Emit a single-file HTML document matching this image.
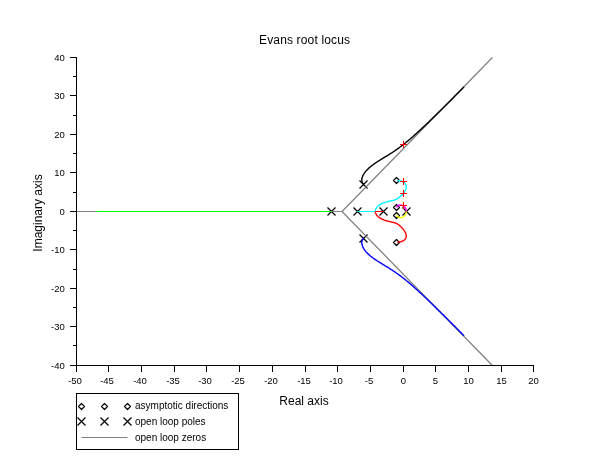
<!DOCTYPE html>
<html><head><meta charset="utf-8"><title>Evans root locus</title>
<style>html,body{margin:0;padding:0;background:#fff}svg{display:block;will-change:transform}</style></head>
<body>
<svg width="610" height="460" viewBox="0 0 610 460">
<rect width="610" height="460" fill="#fff"/>
<g stroke="#000" stroke-width="1.2" fill="none" stroke-linejoin="round">
<path d="M393.5 207.5 l3.0 -3.0 l3.0 3.0 l-3.0 3.0 z"/>
<path d="M393.5 215.5 l3.0 -3.0 l3.0 3.0 l-3.0 3.0 z"/>
<path d="M393.5 180.5 l3.0 -3.0 l3.0 3.0 l-3.0 3.0 z"/>
<path d="M393.5 242.5 l3.0 -3.0 l3.0 3.0 l-3.0 3.0 z"/>
<path d="M78.5 406.5 l3.0 -3.0 l3.0 3.0 l-3.0 3.0 z"/>
<path d="M101.5 406.5 l3.0 -3.0 l3.0 3.0 l-3.0 3.0 z"/>
<path d="M124.5 406.5 l3.0 -3.0 l3.0 3.0 l-3.0 3.0 z"/>
</g>
<g stroke="#000" stroke-width="1.15" fill="none">
<path d="M402.5 207.5 l8.0 8.0 M402.5 215.5 l8.0 -8.0"/>
<path d="M359.5 180.5 l8.0 8.0 M359.5 188.5 l8.0 -8.0"/>
<path d="M359.5 234.5 l8.0 8.0 M359.5 242.5 l8.0 -8.0"/>
<path d="M379.5 207.5 l8.0 8.0 M379.5 215.5 l8.0 -8.0"/>
<path d="M353.5 207.5 l8.0 8.0 M353.5 215.5 l8.0 -8.0"/>
<path d="M327.5 207.5 l8.0 8.0 M327.5 215.5 l8.0 -8.0"/>
<path d="M77.5 417.5 l8.0 8.0 M77.5 425.5 l8.0 -8.0"/>
<path d="M100.5 417.5 l8.0 8.0 M100.5 425.5 l8.0 -8.0"/>
<path d="M123.5 417.5 l8.0 8.0 M123.5 425.5 l8.0 -8.0"/>
</g>
<g stroke="#808080" stroke-width="1.25" fill="none">
<path stroke-width="1" d="M76.5 211.5 L342.0 211.5"/>
<path d="M492.4 57.5 L342.0 211.5 L492.4 365.5"/>
<path stroke-width="1" d="M81.5 437.5 H127.5"/>
</g>
<g fill="none" stroke-width="1.4" stroke-linejoin="round">
<path stroke="#000000" d="M363.8 184.4 L363.5 184.1 L363.2 183.8 L362.9 183.5 L362.7 183.2 L362.4 182.8 L362.2 182.4 L362.1 181.9 L362.0 181.4 L361.9 180.9 L361.8 180.3 L361.8 179.7 L361.8 179.2 L361.9 178.6 L362.0 178.1 L362.2 177.6 L362.3 177.2 L362.5 176.7 L362.6 176.3 L362.8 175.8 L363.0 175.4 L363.2 175.0 L363.5 174.6 L363.7 174.2 L363.9 173.8 L364.2 173.4 L364.4 173.0 L364.7 172.7 L365.0 172.3 L365.2 172.0 L365.5 171.6 L365.8 171.2 L366.1 170.9 L366.4 170.5 L366.7 170.2 L367.0 169.9 L367.4 169.5 L367.7 169.2 L368.0 168.9 L368.4 168.6 L368.7 168.3 L369.0 167.9 L369.4 167.6 L369.8 167.3 L370.1 167.0 L370.5 166.7 L370.8 166.4 L371.2 166.1 L371.5 165.9 L371.9 165.6 L372.3 165.3 L372.7 165.0 L373.1 164.7 L373.5 164.4 L373.9 164.1 L374.3 163.8 L374.6 163.6 L375.0 163.3 L375.4 163.0 L375.8 162.8 L376.2 162.5 L376.6 162.3 L377.0 162.0 L377.4 161.7 L377.9 161.4 L378.3 161.1 L378.8 160.9 L379.2 160.6 L379.7 160.3 L380.2 160.0 L380.7 159.7 L381.0 159.4 L381.4 159.2 L381.8 159.0 L382.2 158.7 L382.6 158.5 L383.0 158.2 L383.4 158.0 L383.9 157.7 L384.3 157.5 L384.7 157.2 L385.2 156.9 L385.6 156.7 L386.0 156.4 L386.5 156.1 L387.0 155.8 L387.4 155.5 L387.9 155.3 L388.4 155.0 L388.9 154.7 L389.3 154.4 L389.8 154.0 L390.3 153.7 L390.8 153.4 L391.3 153.1 L391.9 152.8 L392.4 152.4 L392.9 152.1 L393.4 151.7 L393.9 151.4 L394.5 151.0 L395.0 150.7 L395.3 150.4 L395.7 150.2 L396.1 149.9 L396.4 149.7 L396.8 149.4 L397.1 149.2 L397.5 148.9 L397.9 148.6 L398.2 148.4 L398.6 148.1 L399.0 147.8 L399.3 147.6 L399.7 147.3 L400.1 147.0 L400.4 146.7 L400.8 146.5 L401.2 146.2 L401.6 145.9 L401.9 145.6 L402.3 145.3 L402.7 145.0 L403.0 144.8 L403.4 144.5 L403.8 144.2 L404.2 143.9 L404.6 143.6 L404.9 143.3 L405.3 143.0 L405.7 142.7 L406.1 142.3 L406.4 142.0 L406.8 141.7 L407.2 141.4 L407.6 141.1 L408.0 140.8 L408.3 140.5 L408.7 140.1 L409.1 139.8 L409.5 139.5 L409.9 139.2 L410.3 138.8 L410.7 138.5 L411.0 138.2 L411.4 137.8 L411.8 137.5 L412.2 137.2 L412.6 136.8 L413.0 136.5 L413.4 136.1 L413.8 135.8 L414.2 135.4 L414.5 135.1 L414.9 134.7 L415.3 134.4 L415.7 134.0 L416.1 133.7 L416.5 133.3 L416.9 133.0 L417.3 132.6 L417.7 132.2 L418.1 131.9 L418.5 131.5 L418.9 131.1 L419.3 130.8 L419.7 130.4 L420.1 130.0 L420.5 129.6 L420.9 129.3 L421.4 128.9 L421.8 128.5 L422.2 128.1 L422.6 127.7 L423.0 127.4 L423.4 127.0 L423.8 126.6 L424.2 126.2 L424.7 125.8 L425.1 125.4 L425.5 125.0 L425.9 124.6 L426.3 124.2 L426.8 123.8 L427.2 123.4 L427.6 123.0 L428.0 122.6 L428.5 122.2 L428.9 121.8 L429.3 121.4 L429.7 120.9 L430.2 120.5 L430.6 120.1 L431.0 119.7 L431.5 119.3 L431.9 118.8 L432.4 118.4 L432.8 118.0 L433.2 117.6 L433.7 117.1 L434.1 116.7 L434.6 116.2 L435.0 115.8 L435.5 115.4 L435.9 114.9 L436.4 114.5 L436.8 114.0 L437.3 113.6 L437.8 113.1 L438.2 112.7 L438.7 112.2 L439.1 111.8 L439.6 111.3 L440.1 110.9 L440.5 110.4 L441.0 109.9 L441.5 109.5 L442.0 109.0 L442.4 108.5 L442.9 108.1 L443.4 107.6 L443.9 107.1 L444.3 106.6 L444.8 106.2 L445.3 105.7 L445.8 105.2 L446.3 104.7 L446.8 104.2 L447.3 103.7 L447.8 103.2 L448.3 102.7 L448.8 102.3 L449.3 101.8 L449.8 101.3 L450.3 100.7 L450.8 100.2 L451.3 99.7 L451.8 99.2 L452.3 98.7 L452.8 98.2 L453.3 97.7 L453.9 97.2 L454.4 96.6 L454.9 96.1 L455.4 95.6 L455.9 95.1 L456.5 94.5 L457.0 94.0 L457.5 93.5 L458.1 92.9 L458.6 92.4 L459.2 91.8 L459.7 91.3 L460.2 90.8 L460.8 90.2 L461.3 89.7 L461.9 89.1 L462.4 88.5 L463.0 88.0 L463.5 87.4 L464.1 86.9"/>
<path stroke="#0000ff" d="M363.8 238.3 L363.5 238.6 L363.2 238.9 L362.9 239.2 L362.7 239.5 L362.4 239.9 L362.2 240.3 L362.1 240.8 L362.0 241.3 L361.9 241.8 L361.8 242.4 L361.8 243.0 L361.8 243.5 L361.9 244.1 L362.0 244.6 L362.2 245.1 L362.3 245.5 L362.5 246.0 L362.6 246.4 L362.8 246.9 L363.0 247.3 L363.2 247.7 L363.5 248.1 L363.7 248.5 L363.9 248.9 L364.2 249.3 L364.4 249.7 L364.7 250.0 L365.0 250.4 L365.2 250.7 L365.5 251.1 L365.8 251.5 L366.1 251.8 L366.4 252.2 L366.7 252.5 L367.0 252.8 L367.4 253.2 L367.7 253.5 L368.0 253.8 L368.4 254.1 L368.7 254.4 L369.0 254.8 L369.4 255.1 L369.8 255.4 L370.1 255.7 L370.5 256.0 L370.8 256.3 L371.2 256.6 L371.5 256.8 L371.9 257.1 L372.3 257.4 L372.7 257.7 L373.1 258.0 L373.5 258.3 L373.9 258.6 L374.3 258.9 L374.6 259.1 L375.0 259.4 L375.4 259.7 L375.8 259.9 L376.2 260.2 L376.6 260.4 L377.0 260.7 L377.4 261.0 L377.9 261.3 L378.3 261.6 L378.8 261.8 L379.2 262.1 L379.7 262.4 L380.2 262.7 L380.7 263.0 L381.0 263.3 L381.4 263.5 L381.8 263.7 L382.2 264.0 L382.6 264.2 L383.0 264.5 L383.4 264.7 L383.9 265.0 L384.3 265.2 L384.7 265.5 L385.2 265.8 L385.6 266.0 L386.0 266.3 L386.5 266.6 L387.0 266.9 L387.4 267.2 L387.9 267.4 L388.4 267.7 L388.9 268.0 L389.3 268.3 L389.8 268.7 L390.3 269.0 L390.8 269.3 L391.3 269.6 L391.9 269.9 L392.4 270.3 L392.9 270.6 L393.4 271.0 L393.9 271.3 L394.5 271.7 L395.0 272.0 L395.3 272.3 L395.7 272.5 L396.1 272.8 L396.4 273.0 L396.8 273.3 L397.1 273.5 L397.5 273.8 L397.9 274.1 L398.2 274.3 L398.6 274.6 L399.0 274.9 L399.3 275.1 L399.7 275.4 L400.1 275.7 L400.4 276.0 L400.8 276.2 L401.2 276.5 L401.6 276.8 L401.9 277.1 L402.3 277.4 L402.7 277.7 L403.0 277.9 L403.4 278.2 L403.8 278.5 L404.2 278.8 L404.6 279.1 L404.9 279.4 L405.3 279.7 L405.7 280.0 L406.1 280.4 L406.4 280.7 L406.8 281.0 L407.2 281.3 L407.6 281.6 L408.0 281.9 L408.3 282.2 L408.7 282.6 L409.1 282.9 L409.5 283.2 L409.9 283.5 L410.3 283.9 L410.7 284.2 L411.0 284.5 L411.4 284.9 L411.8 285.2 L412.2 285.5 L412.6 285.9 L413.0 286.2 L413.4 286.6 L413.8 286.9 L414.2 287.3 L414.5 287.6 L414.9 288.0 L415.3 288.3 L415.7 288.7 L416.1 289.0 L416.5 289.4 L416.9 289.7 L417.3 290.1 L417.7 290.5 L418.1 290.8 L418.5 291.2 L418.9 291.6 L419.3 291.9 L419.7 292.3 L420.1 292.7 L420.5 293.1 L420.9 293.4 L421.4 293.8 L421.8 294.2 L422.2 294.6 L422.6 295.0 L423.0 295.3 L423.4 295.7 L423.8 296.1 L424.2 296.5 L424.7 296.9 L425.1 297.3 L425.5 297.7 L425.9 298.1 L426.3 298.5 L426.8 298.9 L427.2 299.3 L427.6 299.7 L428.0 300.1 L428.5 300.5 L428.9 300.9 L429.3 301.3 L429.7 301.8 L430.2 302.2 L430.6 302.6 L431.0 303.0 L431.5 303.4 L431.9 303.9 L432.4 304.3 L432.8 304.7 L433.2 305.1 L433.7 305.6 L434.1 306.0 L434.6 306.5 L435.0 306.9 L435.5 307.3 L435.9 307.8 L436.4 308.2 L436.8 308.7 L437.3 309.1 L437.8 309.6 L438.2 310.0 L438.7 310.5 L439.1 310.9 L439.6 311.4 L440.1 311.8 L440.5 312.3 L441.0 312.8 L441.5 313.2 L442.0 313.7 L442.4 314.2 L442.9 314.6 L443.4 315.1 L443.9 315.6 L444.3 316.1 L444.8 316.5 L445.3 317.0 L445.8 317.5 L446.3 318.0 L446.8 318.5 L447.3 319.0 L447.8 319.5 L448.3 320.0 L448.8 320.4 L449.3 320.9 L449.8 321.4 L450.3 322.0 L450.8 322.5 L451.3 323.0 L451.8 323.5 L452.3 324.0 L452.8 324.5 L453.3 325.0 L453.9 325.5 L454.4 326.1 L454.9 326.6 L455.4 327.1 L455.9 327.6 L456.5 328.2 L457.0 328.7 L457.5 329.2 L458.1 329.8 L458.6 330.3 L459.2 330.9 L459.7 331.4 L460.2 331.9 L460.8 332.5 L461.3 333.0 L461.9 333.6 L462.4 334.2 L463.0 334.7 L463.5 335.3 L464.1 335.8"/>
<path stroke="#00ffff" d="M374.9 211.3 L375.3 210.9 L375.4 210.3 L375.5 209.8 L375.7 209.3 L375.9 208.9 L376.1 208.5 L376.4 208.1 L376.6 207.7 L376.9 207.3 L377.2 207.0 L377.5 206.7 L377.8 206.4 L378.1 206.0 L378.5 205.7 L378.9 205.5 L379.2 205.2 L379.6 204.9 L380.0 204.7 L380.4 204.4 L380.9 204.2 L381.3 203.9 L381.7 203.7 L382.1 203.5 L382.5 203.4 L382.9 203.2 L383.4 203.0 L383.8 202.8 L384.3 202.6 L384.8 202.5 L385.2 202.3 L385.7 202.1 L386.2 202.0 L386.7 201.8 L387.2 201.7 L387.7 201.6 L388.2 201.5 L388.7 201.3 L389.3 201.2 L389.8 201.1 L390.3 201.0 L390.9 200.8 L391.4 200.7 L392.0 200.6 L392.5 200.5 L393.1 200.4 L393.6 200.2 L394.1 200.1 L394.6 200.0 L395.1 199.8 L395.6 199.6 L396.1 199.4 L396.5 199.2 L397.0 199.0 L397.4 198.7 L397.8 198.5 L398.2 198.2 L398.5 198.0 L398.9 197.7 L399.3 197.4 L399.6 197.1 L400.0 196.8 L400.3 196.5 L400.6 196.2 L401.0 195.9 L401.3 195.6 L401.6 195.2 L401.9 194.9 L402.2 194.6 L402.5 194.2 L402.8 193.9 L403.1 193.6 L403.4 193.2 L403.7 192.8 L404.0 192.4 L404.2 192.1 L404.5 191.7 L404.7 191.3 L404.9 190.9 L405.2 190.5 L405.4 190.1 L405.6 189.7 L405.7 189.2 L405.9 188.7 L406.0 188.2 L406.1 187.7 L406.2 187.1 L406.2 186.5 L406.1 185.9 L406.0 185.4 L405.9 184.9 L405.7 184.5 L405.5 184.1 L405.2 183.7 L404.9 183.3 L404.6 183.0 L404.3 182.7 L404.0 182.5 L403.6 182.2 L403.2 181.9 L402.8 181.7 L402.3 181.5 L401.9 181.4 L401.4 181.2 L400.9 181.1 L400.4 180.9 L399.9 180.8 L399.4 180.7 L398.8 180.7 L398.3 180.6 L397.7 180.6 L397.2 180.6"/>
<path stroke="#ff0000" d="M375.8 211.3 L375.3 211.8 L375.4 212.4 L375.5 212.9 L375.7 213.4 L375.9 213.8 L376.1 214.2 L376.4 214.6 L376.6 215.0 L376.9 215.4 L377.2 215.7 L377.5 216.0 L377.8 216.3 L378.1 216.7 L378.5 217.0 L378.9 217.2 L379.2 217.5 L379.6 217.8 L380.0 218.0 L380.4 218.3 L380.9 218.5 L381.3 218.8 L381.7 219.0 L382.1 219.2 L382.5 219.3 L382.9 219.5 L383.4 219.7 L383.8 219.9 L384.3 220.1 L384.8 220.2 L385.2 220.4 L385.7 220.6 L386.2 220.7 L386.7 220.9 L387.2 221.0 L387.7 221.1 L388.2 221.2 L388.7 221.4 L389.3 221.5 L389.8 221.6 L390.3 221.7 L390.9 221.9 L391.4 222.0 L392.0 222.1 L392.5 222.2 L393.1 222.3 L393.6 222.5 L394.1 222.6 L394.6 222.7 L395.1 222.9 L395.6 223.1 L396.1 223.3 L396.5 223.5 L397.0 223.7 L397.4 224.0 L397.8 224.2 L398.2 224.5 L398.5 224.7 L398.9 225.0 L399.3 225.3 L399.6 225.6 L400.0 225.9 L400.3 226.2 L400.6 226.5 L401.0 226.8 L401.3 227.1 L401.6 227.5 L401.9 227.8 L402.2 228.1 L402.5 228.5 L402.8 228.8 L403.1 229.1 L403.4 229.5 L403.7 229.9 L404.0 230.3 L404.2 230.6 L404.5 231.0 L404.7 231.4 L404.9 231.8 L405.2 232.2 L405.4 232.6 L405.6 233.0 L405.7 233.5 L405.9 234.0 L406.0 234.5 L406.1 235.0 L406.2 235.6 L406.2 236.2 L406.1 236.8 L406.0 237.3 L405.9 237.8 L405.7 238.2 L405.5 238.6 L405.2 239.0 L404.9 239.4 L404.6 239.7 L404.3 240.0 L404.0 240.2 L403.6 240.5 L403.2 240.8 L402.8 241.0 L402.3 241.2 L401.9 241.3 L401.4 241.5 L400.9 241.6 L400.4 241.8 L399.9 241.9 L399.4 242.0 L398.8 242.0 L398.3 242.1 L397.7 242.1 L397.2 242.1"/>
<path stroke="#ff00ff" d="M406.3 211.3 L406.3 210.8 L406.2 210.2 L406.1 209.7 L406.0 209.3 L405.8 208.8 L405.6 208.4 L405.4 208.0 L405.2 207.6 L404.9 207.3 L404.6 207.0 L404.3 206.7 L404.0 206.4 L403.6 206.1 L403.2 205.9 L402.8 205.6 L402.4 205.5 L402.0 205.3 L401.5 205.2 L400.9 205.1 L400.4 205.0 L399.8 205.1 L399.3 205.2 L398.8 205.3 L398.4 205.5 L398.0 205.8 L397.7 206.0 L397.3 206.3 L397.1 206.7 L396.8 207.0 L396.6 207.4 L396.5 207.5"/>
<path stroke="#ffff00" d="M406.3 211.4 L406.3 211.9 L406.2 212.5 L406.1 213.0 L406.0 213.4 L405.8 213.9 L405.6 214.3 L405.4 214.7 L405.2 215.1 L404.9 215.4 L404.6 215.7 L404.3 216.0 L404.0 216.3 L403.6 216.6 L403.2 216.8 L402.8 217.1 L402.4 217.2 L402.0 217.4 L401.5 217.5 L400.9 217.6 L400.4 217.7 L399.8 217.6 L399.3 217.5 L398.8 217.4 L398.4 217.2 L398.0 216.9 L397.7 216.7 L397.3 216.4 L397.1 216.0 L396.8 215.7 L396.6 215.3 L396.5 215.2"/>
</g>
<g fill="none" stroke-width="1">
<path stroke="#00ff00" d="M96.5 211.5 H331.1"/>
<path stroke="#00ffff" d="M357.3 211.5 H374.9"/>
<path stroke="#ff0000" d="M375.8 211.5 H383.4"/>
</g>
<g stroke="#ff0000" stroke-width="1.1" fill="none">
<path d="M400.1 144.5 h6.8 M403.5 141.1 v6.8"/>
<path d="M400.1 193.5 h6.8 M403.5 190.1 v6.8"/>
<path d="M400.1 181.5 h6.8 M403.5 178.1 v6.8"/>
<path d="M400.1 205.5 h6.8 M403.5 202.1 v6.8"/>
</g>
<g stroke="#000" stroke-width="1" fill="none" shape-rendering="crispEdges">
<path d="M76.5 57.0 V365.5 H534.0"/>
<path d="M76.5 365.5 v6.5M108.5 365.5 v6.5M141.5 365.5 v6.5M174.5 365.5 v6.5M206.5 365.5 v6.5M239.5 365.5 v6.5M272.5 365.5 v6.5M305.5 365.5 v6.5M337.5 365.5 v6.5M370.5 365.5 v6.5M403.5 365.5 v6.5M435.5 365.5 v6.5M468.5 365.5 v6.5M501.5 365.5 v6.5M533.5 365.5 v6.5M76.5 57.5 h-6.5M76.5 76.5 h-3.5M76.5 95.5 h-6.5M76.5 115.5 h-3.5M76.5 134.5 h-6.5M76.5 153.5 h-3.5M76.5 172.5 h-6.5M76.5 192.5 h-3.5M76.5 211.5 h-6.5M76.5 230.5 h-3.5M76.5 249.5 h-6.5M76.5 269.5 h-3.5M76.5 288.5 h-6.5M76.5 307.5 h-3.5M76.5 326.5 h-6.5M76.5 345.5 h-3.5M76.5 365.5 h-6.5"/>
<rect x="76.5" y="393.5" width="162" height="56"/>
</g>
<g font-family="Liberation Sans, Arial, sans-serif" fill="#000">
<g font-size="9.5px" text-anchor="middle">
<text x="75.0" y="384.2">-50</text>
<text x="107.0" y="384.2">-45</text>
<text x="140.0" y="384.2">-40</text>
<text x="173.0" y="384.2">-35</text>
<text x="205.0" y="384.2">-30</text>
<text x="238.0" y="384.2">-25</text>
<text x="271.0" y="384.2">-20</text>
<text x="304.0" y="384.2">-15</text>
<text x="336.0" y="384.2">-10</text>
<text x="369.0" y="384.2">-5</text>
<text x="403.5" y="384.2">0</text>
<text x="435.5" y="384.2">5</text>
<text x="468.5" y="384.2">10</text>
<text x="501.5" y="384.2">15</text>
<text x="533.5" y="384.2">20</text>
</g>
<g font-size="9.5px" text-anchor="end">
<text x="64.8" y="60.7">40</text>
<text x="64.8" y="98.7">30</text>
<text x="64.8" y="137.7">20</text>
<text x="64.8" y="175.7">10</text>
<text x="64.8" y="214.7">0</text>
<text x="64.8" y="252.7">-10</text>
<text x="64.8" y="291.7">-20</text>
<text x="64.8" y="329.7">-30</text>
<text x="64.8" y="368.7">-40</text>
</g>
<g font-size="10px">
<text x="135" y="409">asymptotic directions</text>
<text x="135" y="425">open loop poles</text>
<text x="135" y="441">open loop zeros</text>
</g>
<g font-size="12px" text-anchor="middle">
<text x="304.6" y="44" letter-spacing="0.15">Evans root locus</text>
<text x="304" y="404.7">Real axis</text>
<text transform="translate(41.8 213) rotate(-90)">Imaginary axis</text>
</g>
</g>
</svg>
</body></html>
